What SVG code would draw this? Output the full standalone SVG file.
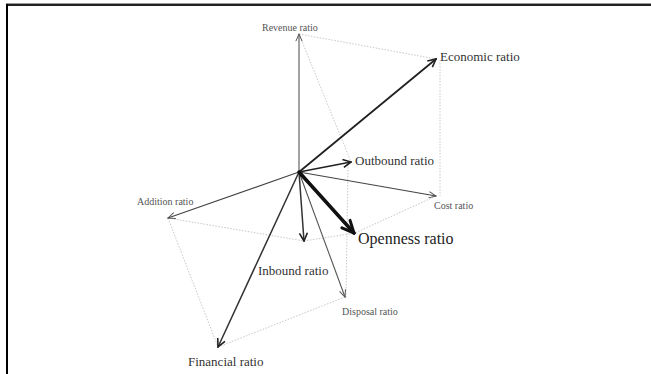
<svg xmlns="http://www.w3.org/2000/svg" width="651" height="374" viewBox="0 0 651 374">
<style>
  .lbl { font-family: "Liberation Serif", "Times New Roman", serif; fill: #333; }
  .sm { font-size: 10px; fill: #555; }
  .md { font-size: 13px; }
  .lg { font-size: 16px; fill: #222; }
  .vec { fill: none; stroke-linecap: round; }
  .guide { fill: none; stroke: #c8c8c8; stroke-width: 1; stroke-dasharray: 1.5 1.5; }
</style>
<defs>
  <marker id="ahDark" markerUnits="userSpaceOnUse" viewBox="0 0 10 10" refX="9" refY="5" markerWidth="10" markerHeight="10" orient="auto">
    <path d="M1,1 L9,5 L1,9" fill="none" stroke="#222" stroke-width="1.6"/>
  </marker>
  <marker id="ahGray" markerUnits="userSpaceOnUse" viewBox="0 0 10 10" refX="9" refY="5" markerWidth="9" markerHeight="9" orient="auto">
    <path d="M1,1.5 L9,5 L1,8.5" fill="none" stroke="#555" stroke-width="1.1"/>
  </marker>
  <marker id="ahBig" markerUnits="userSpaceOnUse" viewBox="0 0 16 16" refX="14" refY="8" markerWidth="16" markerHeight="16" orient="auto">
    <path d="M2,2.5 L14,8 L2,13.5" fill="none" stroke="#111" stroke-width="3" stroke-linejoin="miter" stroke-linecap="round"/>
  </marker>
</defs>
<rect width="651" height="374" fill="#fff"/>
<g id="frame">
  <rect x="6" y="3" width="645" height="1" fill="#999"/>
  <rect x="6" y="4" width="645" height="2" fill="#222"/>
  <rect x="6" y="4" width="2" height="370" fill="#000"/>
</g>
<g id="connectors">
  <g id="guides">
    <line class="guide" x1="299" y1="34" x2="436" y2="59"/>
    <line class="guide" x1="299" y1="34" x2="351" y2="162"/>
    <line class="guide" x1="348" y1="164" x2="346" y2="297"/>
    <line class="guide" x1="440" y1="60" x2="440" y2="196"/>
    <line class="guide" x1="436" y1="196" x2="355" y2="233"/>
    <line class="guide" x1="168" y1="218" x2="304" y2="241"/>
    <line class="guide" x1="304" y1="241" x2="355" y2="233"/>
    <line class="guide" x1="168" y1="218" x2="218" y2="347"/>
    <line class="guide" x1="218" y1="347" x2="345" y2="297"/>
  </g>
  <line class="vec" x1="299" y1="172" x2="299" y2="34" stroke="#666" stroke-width="1.2" marker-end="url(#ahGray)"/>
  <line class="vec" x1="299" y1="172" x2="436" y2="59" stroke="#222" stroke-width="1.8" marker-end="url(#ahDark)"/>
  <line class="vec" x1="299" y1="172" x2="351" y2="162" stroke="#222" stroke-width="1.6" marker-end="url(#ahDark)"/>
  <line class="vec" x1="299" y1="172" x2="436" y2="196" stroke="#444" stroke-width="1.1" marker-end="url(#ahGray)"/>
  <line class="vec" x1="299" y1="172" x2="304" y2="241" stroke="#333" stroke-width="1.5" marker-end="url(#ahDark)"/>
  <line class="vec" x1="299" y1="172" x2="345" y2="297" stroke="#555" stroke-width="1.1" marker-end="url(#ahGray)"/>
  <line class="vec" x1="299" y1="172" x2="218" y2="347" stroke="#333" stroke-width="1.5" marker-end="url(#ahDark)"/>
  <line class="vec" x1="299" y1="172" x2="168" y2="218" stroke="#444" stroke-width="1.1" marker-end="url(#ahGray)"/>
  <line class="vec" x1="299" y1="172" x2="354" y2="233" stroke="#111" stroke-width="3.5" marker-end="url(#ahBig)"/>
</g>
<g id="revenue"><text class="lbl sm" x="262" y="31">Revenue ratio</text></g>
<g id="economic"><text class="lbl md" x="440" y="61">Economic ratio</text></g>
<g id="outbound"><text class="lbl md" x="355" y="165">Outbound ratio</text></g>
<g id="cost"><text class="lbl sm" x="434" y="209">Cost ratio</text></g>
<g id="openness"><text class="lbl lg" x="358" y="243.5">Openness ratio</text></g>
<g id="inbound"><text class="lbl md" x="258" y="275">Inbound ratio</text></g>
<g id="disposal"><text class="lbl sm" x="342" y="315">Disposal ratio</text></g>
<g id="financial"><text class="lbl md" x="188" y="366">Financial ratio</text></g>
<g id="addition"><text class="lbl sm" x="137" y="205">Addition ratio</text></g>
</svg>
